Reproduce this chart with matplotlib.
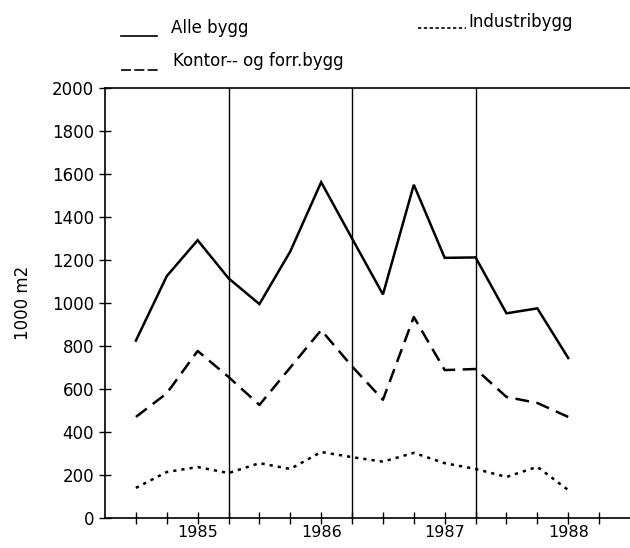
import matplotlib
matplotlib.use("Agg")
import matplotlib.pyplot as plt
from matplotlib.lines import Line2D

# kvartal 1..15, 1985 - 1988
kvartal = list(range(1, 16))
alle_bygg = [825, 1125, 1292, 1115, 995, 1240, 1562, 1300, 1040, 1550,
             1210, 1212, 952, 975, 744]
kontor = [470, 580, 777, 656, 526, 700, 874, 705, 550, 935,
          688, 693, 563, 535, 470]
industri = [140, 214, 237, 209, 255, 228, 307, 283, 262, 303,
            255, 228, 191, 238, 130]

tick_pos = list(range(1, 17))
year_pos = [3, 7, 11, 15]
year_labels = ["1985", "1986", "1987", "1988"]
year_lines = [4, 8, 12]

fig = plt.figure(figsize=(6.3, 5.48), dpi=100)
ax = fig.add_axes([105 / 630, 30 / 548, 1 - 105 / 630, 430 / 548])

ax.plot(kvartal, alle_bygg, color="black", lw=1.8, solid_joinstyle="miter")
ax.plot(kvartal, kontor, color="black", lw=1.8, dashes=(5.5, 3))
ax.plot(kvartal, industri, color="black", lw=1.8, dashes=(1.3, 2))

for x in year_lines:
    ax.axvline(x, color="black", lw=1.0)

ax.set_xlim(0, 17)
ax.set_ylim(0, 2000)
ax.set_yticks(range(0, 2001, 200))
ax.set_xticks(tick_pos)
ax.set_xticklabels([year_labels[year_pos.index(t)] if t in year_pos else ""
                    for t in tick_pos])
ax.spines["right"].set_visible(False)
for s in ["left", "bottom", "top"]:
    ax.spines[s].set_linewidth(1.2)
ax.tick_params(axis="both", direction="inout", length=8, width=1.0,
               labelsize=12)
ax.tick_params(axis="x", pad=1, labelsize=11.5)
ax.tick_params(axis="y", pad=4)
ax.set_ylabel("1000 m2", fontsize=12, labelpad=14)

# forklaring
fig.add_artist(Line2D([121 / 630, 157 / 630], [1 - 36 / 548, 1 - 36 / 548],
                      color="black", lw=1.2))
fig.text(171 / 630, 1 - 28 / 548, "Alle bygg", fontsize=12, va="center")
fig.add_artist(Line2D([121 / 630, 161 / 630], [1 - 70 / 548, 1 - 70 / 548],
                      color="black", lw=1.2, dashes=(6, 2)))
fig.text(173 / 630, 1 - 61 / 548, "Kontor-- og forr.bygg", fontsize=12,
         va="center")
fig.add_artist(Line2D([418 / 630, 466 / 630], [1 - 28 / 548, 1 - 28 / 548],
                      color="black", lw=1.2, dashes=(2, 1.5)))
fig.text(468 / 630, 1 - 22 / 548, "Industribygg", fontsize=12, va="center")

fig.savefig("out.png", dpi=100)
